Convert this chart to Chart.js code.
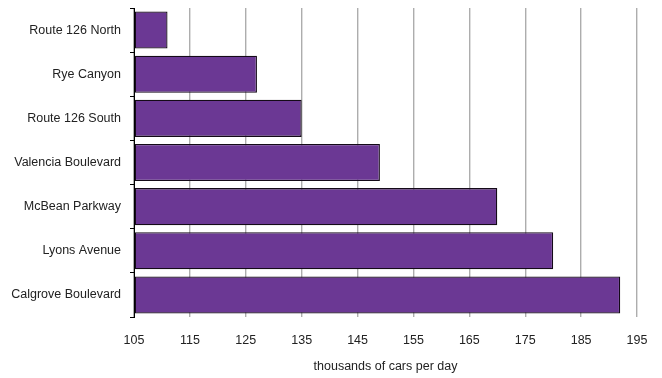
<!DOCTYPE html>
<html>
<head>
<meta charset="utf-8">
<script src="https://cdn.jsdelivr.net/npm/chart.js@4.4.1/dist/chart.umd.min.js"></script>
<style>
  html, body { margin: 0; padding: 0; background: #fff; }
  #wrap { width: 662px; height: 378px; }
</style>
</head>
<body>
<div id="wrap"><canvas id="traffic_chart" width="662" height="378"></canvas></div>
<script>
const roads = [
    "Route 126 North",
    "Rye Canyon",
    "Route 126 South",
    "Valencia Boulevard",
    "McBean Parkway",
    "Lyons Avenue",
    "Calgrove Boulevard"
];
const carsPerDay = [111, 127, 135, 149, 170, 180, 192]; // thousands
const xTicks = [105, 115, 125, 135, 145, 155, 165, 175, 185, 195];

const font = { family: "'Liberation Sans Narrow', 'Arial Narrow', 'Liberation Sans', Arial, sans-serif", size: 12.5 };

new Chart(document.getElementById("traffic_chart"), {
    type: "bar",
    data: {
        labels: roads,
        datasets: [{
            label: "thousands of cars per day",
            data: carsPerDay,
            backgroundColor: "#6b3894",
            borderColor: "#140a18",
            borderWidth: 1.3,
            borderSkipped: false,
            barPercentage: 0.84,
            categoryPercentage: 1.0,
            base: xTicks[0]
        }]
    },
    options: {
        indexAxis: "y",
        responsive: false,
        animation: false,
        layout: { padding: { top: 8, right: 25, left: 0, bottom: 0 } },
        plugins: { legend: { display: false }, tooltip: { enabled: false } },
        scales: {
            x: {
                min: xTicks[0],
                max: xTicks[xTicks.length - 1],
                afterBuildTicks: (scale) => { scale.ticks = xTicks.map((v) => ({ value: v })); },
                afterFit: (scale) => {
                    scale.height = 61;
                    scale.paddingLeft = 0;
                    scale.paddingRight = 0;
                },
                grid: { color: "#adadad", lineWidth: 1.4, drawTicks: false },
                border: { display: false },
                ticks: { color: "#222", font: font, padding: 16 },
                title: {
                    display: true,
                    text: "thousands of cars per day",
                    color: "#222",
                    font: font,
                    padding: { top: 4 }
                }
            },
            y: {
                afterFit: (scale) => {
                    scale.width = 134;
                    scale.paddingTop = 0;
                    scale.paddingBottom = 0;
                },
                grid: { drawOnChartArea: false, color: "#000", tickLength: 4, offset: true },
                border: { display: true, color: "#000", width: 1 },
                ticks: { color: "#222", font: font, padding: 9 }
            }
        }
    }
});
</script>
</body>
</html>
